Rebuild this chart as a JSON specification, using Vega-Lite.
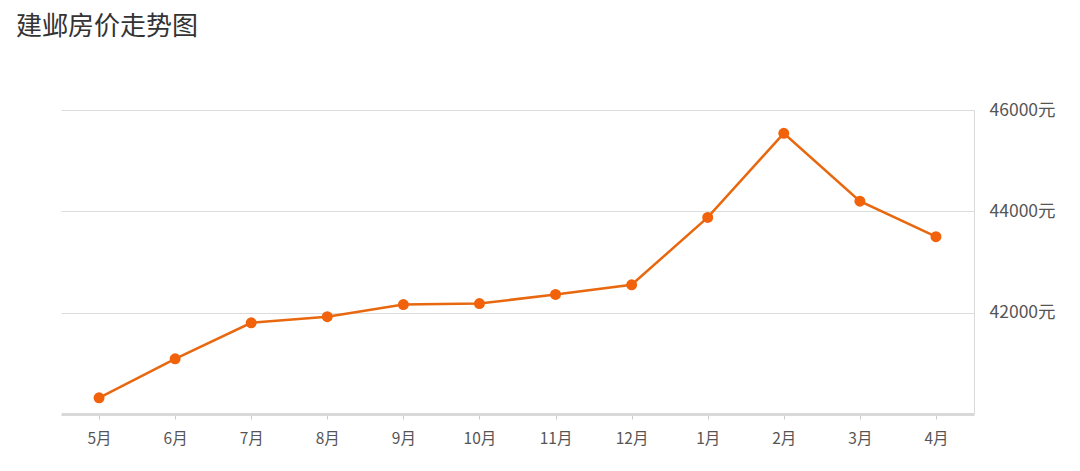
{
  "$schema": "https://vega.github.io/schema/vega-lite/v6.json",
  "autosize": "none",
  "width": 913,
  "height": 304,
  "padding": {"left": 61, "top": 110, "right": 106, "bottom": 57},
  "background": "white",
  "title": {
    "text": "建邺房价走势图",
    "anchor": "start",
    "frame": "group",
    "dx": -45,
    "offset": 61,
    "fontSize": 26,
    "font": "Noto Sans CJK SC",
    "fontWeight": "normal",
    "color": "#333333"
  },
  "config": {
    "view": {"stroke": null},
    "font": "Noto Sans CJK SC"
  },
  "data": {
    "values": [
      {"month": "5月", "price": 40320},
      {"month": "6月", "price": 41090},
      {"month": "7月", "price": 41800},
      {"month": "8月", "price": 41920},
      {"month": "9月", "price": 42160},
      {"month": "10月", "price": 42180},
      {"month": "11月", "price": 42360},
      {"month": "12月", "price": 42550},
      {"month": "1月", "price": 43880},
      {"month": "2月", "price": 45540},
      {"month": "3月", "price": 44200},
      {"month": "4月", "price": 43500}
    ]
  },
  "encoding": {
    "x": {
      "field": "month",
      "type": "ordinal",
      "sort": null,
      "scale": {"type": "point", "padding": 0.5},
      "axis": {
        "title": null,
        "labelAngle": 0,
        "labelFontSize": 15.5,
        "labelColor": "#555555",
        "labelPadding": 12,
        "domainColor": "#d9d9d9",
        "domainWidth": 3,
        "tickColor": "#cccccc",
        "tickSize": 5,
        "grid": false
      }
    },
    "y": {
      "field": "price",
      "type": "quantitative",
      "scale": {"domain": [40000, 46000], "nice": false, "zero": false},
      "axis": {
        "orient": "right",
        "title": null,
        "values": [42000, 44000, 46000],
        "labelExpr": "format(datum.value, 'd') + '元'",
        "labelFontSize": 17.5,
        "labelColor": "#555555",
        "labelPadding": 15,
        "ticks": false,
        "domainColor": "#dadada",
        "domainWidth": 1,
        "grid": true,
        "gridColor": "#dcdcdc",
        "gridWidth": 1
      }
    }
  },
  "layer": [
    {
      "mark": {"type": "line", "color": "#e8680f", "strokeWidth": 2.5}
    },
    {
      "mark": {"type": "point", "filled": true, "color": "#f2620a", "size": 120, "opacity": 1}
    }
  ]
}
